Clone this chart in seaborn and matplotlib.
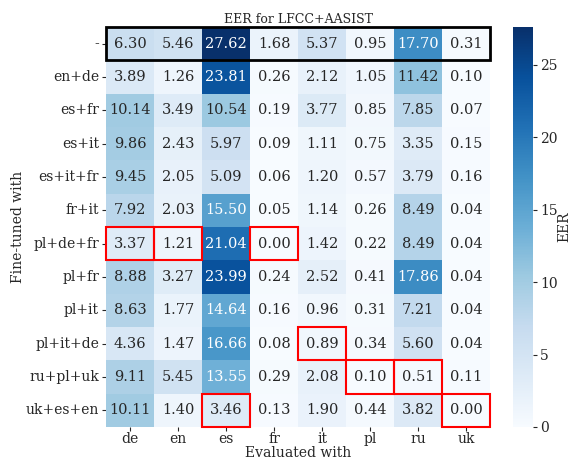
import numpy as np
import pandas as pd
import matplotlib
matplotlib.use("Agg")
import matplotlib.pyplot as plt
import seaborn as sns
from matplotlib.patches import Rectangle

rows = ["-", "en+de", "es+fr", "es+it", "es+it+fr", "fr+it", "pl+de+fr",
        "pl+fr", "pl+it", "pl+it+de", "ru+pl+uk", "uk+es+en"]
cols = ["de", "en", "es", "fr", "it", "pl", "ru", "uk"]
r_none = [6.30, 5.46, 27.62, 1.68, 5.37, 0.95, 17.70, 0.31]
r_en_de = [3.89, 1.26, 23.81, 0.26, 2.12, 1.05, 11.42, 0.10]
r_es_fr = [10.14, 3.49, 10.54, 0.19, 3.77, 0.85, 7.85, 0.07]
r_es_it = [9.86, 2.43, 5.97, 0.09, 1.11, 0.75, 3.35, 0.15]
r_es_it_fr = [9.45, 2.05, 5.09, 0.06, 1.20, 0.57, 3.79, 0.16]
r_fr_it = [7.92, 2.03, 15.50, 0.05, 1.14, 0.26, 8.49, 0.04]
r_pl_de_fr = [3.37, 1.21, 21.04, 0.00, 1.42, 0.22, 8.49, 0.04]
r_pl_fr = [8.88, 3.27, 23.99, 0.24, 2.52, 0.41, 17.86, 0.04]
r_pl_it = [8.63, 1.77, 14.64, 0.16, 0.96, 0.31, 7.21, 0.04]
r_pl_it_de = [4.36, 1.47, 16.66, 0.08, 0.89, 0.34, 5.60, 0.04]
r_ru_pl_uk = [9.11, 5.45, 13.55, 0.29, 2.08, 0.10, 0.51, 0.11]
r_uk_es_en = [10.11, 1.40, 3.46, 0.13, 1.90, 0.44, 3.82, 0.00]

data = [r_none, r_en_de, r_es_fr, r_es_it, r_es_it_fr, r_fr_it, r_pl_de_fr,
        r_pl_fr, r_pl_it, r_pl_it_de, r_ru_pl_uk, r_uk_es_en]
df = pd.DataFrame(data, index=rows, columns=cols)

sns.set_style("white")
plt.rcParams['font.family'] = ['DejaVu Serif']

fig = plt.figure(figsize=(5.73, 4.59), dpi=100)
ax = fig.add_axes([106/573, 1 - 427/459, 384/573, 400/459])
cax = fig.add_axes([513/573, 1 - 427/459, 20/573, 400/459])

sns.heatmap(df, ax=ax, cbar_ax=cax, cmap="Blues", annot=True, fmt=".2f",
            annot_kws={"fontsize": 10.5}, cbar_kws={"label": "EER"})
ax.set_title("EER for LFCC+AASIST", fontsize=9, pad=3)
ax.set_xlabel("Evaluated with", fontsize=10, labelpad=0, va="center")
ax.set_ylabel("Fine-tuned with", fontsize=10, va="center")
ax.tick_params(axis='y', labelsize=10, length=3, pad=2, left=True)
ax.tick_params(axis='x', labelsize=10, length=3, pad=0.5, bottom=True)
ax.set_yticklabels(rows, rotation=0)
ax.set_xticklabels(cols, rotation=0)
ax.yaxis.set_label_coords((18 - 106) / 384, 0.5)
ax.xaxis.set_label_coords(0.5, -(453 - 427) / 400)
cax.tick_params(labelsize=10, length=3, pad=2)
cax.yaxis.label.set_size(10)
cax.yaxis.label.set_va("center")
cax.yaxis.set_label_coords((564 - 513) / 20, 0.5)

# black box around first row
ax.add_patch(Rectangle((0, 0), len(cols), 1, fill=False, edgecolor="black", lw=2, clip_on=False))
# red boxes at column minima
arr = np.array(data)
for j in range(len(cols)):
    i = int(np.argmin(arr[1:, j])) + 1
    ax.add_patch(Rectangle((j, i), 1, 1, fill=False, edgecolor="red", lw=1.5, clip_on=False))

fig.savefig("out.png", dpi=100)
